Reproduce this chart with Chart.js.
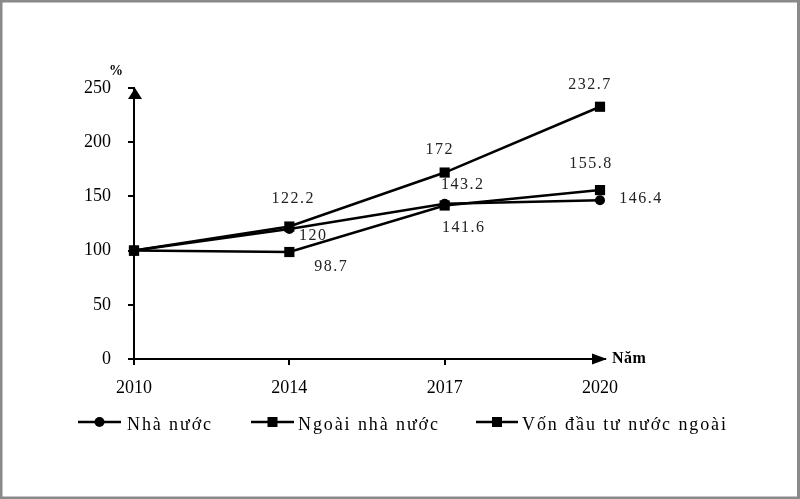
<!DOCTYPE html>
<html>
<head>
<meta charset="utf-8">
<script src="https://cdn.jsdelivr.net/npm/chart.js@4.4.1/dist/chart.umd.min.js"></script>
<style>
  html, body { margin: 0; padding: 0; background: #fff; }
  #wrap { width: 800px; height: 499px; position: relative; }
</style>
</head>
<body>
<div id="wrap"><canvas id="c" width="800" height="499"></canvas></div>
<script>
// ---- data ----
const years = ['2010', '2014', '2017', '2020'];
const nhaNuoc = [100, 120, 143.2, 146.4];
const ngoaiNhaNuoc = [100, 98.7, 141.6, 155.8];
const vonNuocNgoai = [100, 122.2, 172, 232.7];
const seriesNames = ['Nhà nước', 'Ngoài nhà nước', 'Vốn đầu tư nước ngoài'];
const yTickValues = [0, 50, 100, 150, 200, 250];
const yUnit = '%';
const xUnit = 'Năm';

// ---- label placement (style only: pixel offsets from each point) ----
const labelOffsets = [
  [null, [24, 7], [18, -19], [41, -2]],
  [null, [42, 15], [19, 22], [-9, -26]],
  [null, [4, -28], [-5, -23], [-10, -22]]
];
const legendSlots = [
  { x1: 78, x2: 121, tx: 127 },
  { x1: 251, x2: 294, tx: 298 },
  { x1: 476, x2: 518, tx: 522 }
];
const SERIF = '"Liberation Serif", "Times New Roman", serif';

function drawMarker(ctx, style, x, y) {
  ctx.fillStyle = '#000';
  ctx.beginPath();
  if (style === 'circle') {
    ctx.arc(x, y, 5, 0, Math.PI * 2);
  } else {
    ctx.rect(x - 5, y - 5, 10, 10);
  }
  ctx.fill();
}

const decor = {
  id: 'decor',
  afterDraw(chart) {
    const ctx = chart.ctx;
    const a = chart.chartArea;
    ctx.save();
    // frame
    ctx.fillStyle = '#8a8a8a';
    ctx.fillRect(0, 0, 800, 2.5);
    ctx.fillRect(0, 0, 2.5, 499);
    ctx.fillRect(797, 0, 3, 499);
    ctx.fillRect(0, 496.5, 800, 2.5);

    // axis arrows
    ctx.strokeStyle = '#000';
    ctx.fillStyle = '#000';
    ctx.lineWidth = 2;
    ctx.beginPath();
    ctx.moveTo(a.right, a.bottom);
    ctx.lineTo(a.right + 6, a.bottom);
    ctx.stroke();
    ctx.beginPath();
    ctx.moveTo(a.right + 7, a.bottom);
    ctx.lineTo(a.right - 8, a.bottom - 5.5);
    ctx.lineTo(a.right - 8, a.bottom + 5.5);
    ctx.closePath();
    ctx.fill();
    ctx.beginPath();
    ctx.moveTo(a.left + 1, a.top);
    ctx.lineTo(a.left - 6, a.top + 11);
    ctx.lineTo(a.left + 8, a.top + 11);
    ctx.closePath();
    ctx.fill();

    // axis unit labels
    ctx.font = 'bold 14px ' + SERIF;
    ctx.textAlign = 'center';
    ctx.textBaseline = 'middle';
    ctx.fillText(yUnit, a.left - 18, a.top - 17);
    ctx.textAlign = 'left';
    ctx.font = 'bold 16px ' + SERIF;
    try { ctx.letterSpacing = '0.5px'; } catch (e) {}
    ctx.fillText(xUnit, a.right + 12, a.bottom);

    // data labels
    ctx.font = '16px ' + SERIF;
    ctx.fillStyle = '#222';
    ctx.textAlign = 'center';
    ctx.textBaseline = 'middle';
    try { ctx.letterSpacing = '1.5px'; } catch (e) {}
    chart.data.datasets.forEach((ds, di) => {
      const meta = chart.getDatasetMeta(di);
      meta.data.forEach((pt, i) => {
        const off = labelOffsets[di][i];
        if (!off) return;
        ctx.fillText(String(ds.data[i]), pt.x + off[0], pt.y + off[1]);
      });
    });

    // legend
    ctx.font = '18px ' + SERIF;
    ctx.fillStyle = '#000';
    ctx.textAlign = 'left';
    ctx.textBaseline = 'alphabetic';
    try { ctx.letterSpacing = '1.9px'; } catch (e) {}
    const ly = 422;
    chart.data.datasets.forEach((ds, di) => {
      const s = legendSlots[di];
      ctx.strokeStyle = '#000';
      ctx.lineWidth = 2.5;
      ctx.beginPath();
      ctx.moveTo(s.x1, ly);
      ctx.lineTo(s.x2, ly);
      ctx.stroke();
      drawMarker(ctx, ds.pointStyle, (s.x1 + s.x2) / 2, ly);
      ctx.fillStyle = '#000';
      ctx.fillText(ds.label, s.tx, ly + 8);
    });
    ctx.restore();
  }
};

function mkDataset(label, data, style) {
  return {
    label: label,
    data: data,
    borderColor: '#000',
    backgroundColor: '#000',
    borderWidth: 2.5,
    pointStyle: style,
    pointRadius: style === 'circle' ? 5 : 7.2,
    pointBorderWidth: 0,
    pointBackgroundColor: '#000',
    tension: 0,
    clip: false
  };
}

new Chart(document.getElementById('c'), {
  type: 'line',
  data: {
    labels: years,
    datasets: [
      mkDataset(seriesNames[0], nhaNuoc, 'circle'),
      mkDataset(seriesNames[1], ngoaiNhaNuoc, 'rect'),
      mkDataset(seriesNames[2], vonNuocNgoai, 'rect')
    ]
  },
  options: {
    responsive: false,
    animation: false,
    events: [],
    layout: { padding: { left: 0, top: 88, right: 200, bottom: 100 } },
    plugins: { legend: { display: false }, tooltip: { enabled: false } },
    scales: {
      x: {
        type: 'category',
        offset: false,
        afterFit(scale) { scale.height = 40; },
        border: { display: true, color: '#000', width: 2 },
        grid: {
          drawOnChartArea: false,
          drawTicks: true,
          tickLength: 6,
          lineWidth: 2,
          color: (c) => (c.index === years.length - 1 ? 'rgba(0,0,0,0)' : '#000')
        },
        ticks: {
          color: '#000',
          padding: 12,
          maxRotation: 0,
          autoSkip: false,
          font: { family: SERIF, size: 18 }
        }
      },
      y: {
        min: 0,
        max: 250,
        afterFit(scale) { scale.width = 134; },
        afterBuildTicks(scale) { scale.ticks = yTickValues.map(v => ({ value: v })); },
        border: { display: true, color: '#000', width: 2 },
        grid: {
          drawOnChartArea: false,
          drawTicks: true,
          tickLength: 6,
          lineWidth: 2,
          color: '#000'
        },
        ticks: {
          color: '#000',
          padding: 17,
          font: { family: SERIF, size: 18 }
        }
      }
    }
  },
  plugins: [decor]
});
</script>
</body>
</html>
